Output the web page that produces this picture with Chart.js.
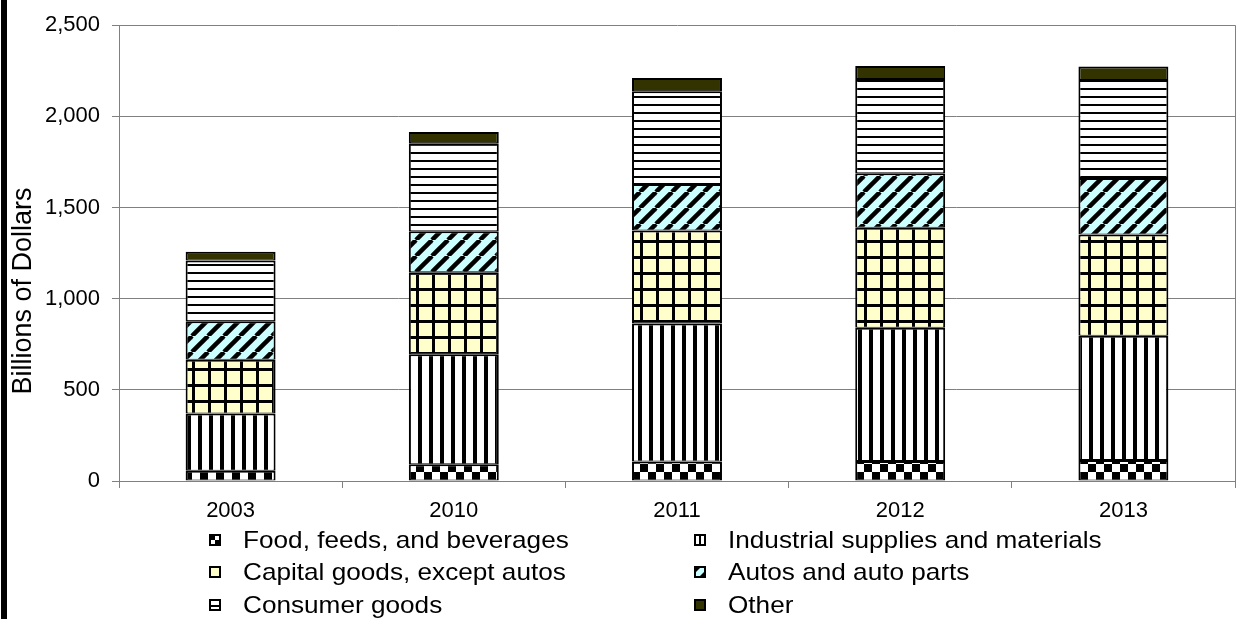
<!DOCTYPE html>
<html>
<head>
<meta charset="utf-8">
<script src="https://cdn.jsdelivr.net/npm/chart.js@4.4.0/dist/chart.umd.min.js"></script>
<style>
  body { margin: 0; background: #fff; }
  #wrap { position: relative; width: 1241px; height: 619px; overflow: hidden; background: #fff; }
  #chart { position: absolute; left: 0; top: 0; }
  #edge { position: absolute; left: 1px; top: 0; width: 6px; height: 619px; background: #000; }
  .leg-item { position: absolute; height: 24px; }
  .leg-item canvas { position: absolute; top: 6px; }
  .leg-item span {
    position: absolute; top: 0; white-space: nowrap;
    font-family: "Liberation Sans", Arial, sans-serif; font-size: 24px; line-height: 24px; color: #000;
    transform: scaleX(1.09); transform-origin: left center;
  }
</style>
</head>
<body>
<div id="wrap">
  <canvas id="chart" width="1241" height="619"></canvas>
  <div id="edge"></div>
  <div id="legend"></div>
</div>
<script>
/********************************
 *  data (billions of dollars)
 * ******************************/
var years = ['2003', '2010', '2011', '2012', '2013'];
var seriesNames = [
    'Food, feeds, and beverages',
    'Industrial supplies and materials',
    'Capital goods, except autos',
    'Autos and auto parts',
    'Consumer goods',
    'Other'
];
var food       = [55.8, 91.7, 107.5, 110.3, 115.1];
var industrial = [313.8, 603.1, 755.8, 730.6, 681.7];
var capital    = [295.9, 450.0, 510.8, 548.7, 555.7];
var autos      = [210.1, 225.1, 254.6, 298.5, 309.6];
var consumer   = [333.9, 483.2, 509.5, 516.9, 537.5];
var other      = [48.3, 60.9, 71.7, 71.4, 73.5];
var yTickLabels = ['0', '500', '1,000', '1,500', '2,000', '2,500'];
var yTitle = 'Billions of Dollars';

var FONT = '"Liberation Sans", Arial, sans-serif';

// fill patterns like the excel ones
function makePattern(kind) {
    var c = document.createElement('canvas');
    var g;
    if (kind == 'checker') {
        c.width = 16; c.height = 16; g = c.getContext('2d');
        g.fillStyle = '#fff'; g.fillRect(0, 0, 16, 16);
        g.fillStyle = '#000'; g.fillRect(0, 0, 8, 8); g.fillRect(8, 8, 8, 8);
    } else if (kind == 'vertical') {
        c.width = 11; c.height = 4; g = c.getContext('2d');
        g.fillStyle = '#fff'; g.fillRect(0, 0, 11, 4);
        g.fillStyle = '#000'; g.fillRect(0, 0, 4, 4);
    } else if (kind == 'grid') {
        c.width = 16; c.height = 16; g = c.getContext('2d');
        g.fillStyle = '#FFFFCC'; g.fillRect(0, 0, 16, 16);
        g.fillStyle = '#000'; g.fillRect(0, 0, 16, 3); g.fillRect(0, 0, 3, 16);
    } else if (kind == 'diagonal') {
        c.width = 16; c.height = 16; g = c.getContext('2d');
        g.fillStyle = '#CCFFFF'; g.fillRect(0, 0, 16, 16);
        g.strokeStyle = '#000'; g.lineWidth = 4.5;
        for (var k = -16; k <= 16; k += 16) {
            g.beginPath(); g.moveTo(k, 16); g.lineTo(k + 16, 0); g.stroke();
        }
    } else if (kind == 'horizontal') {
        c.width = 4; c.height = 8; g = c.getContext('2d');
        g.fillStyle = '#fff'; g.fillRect(0, 0, 4, 8);
        g.fillStyle = '#000'; g.fillRect(0, 0, 4, 2);
    }
    return g.createPattern(c, 'repeat');
}

var fills = [
    makePattern('checker'),
    makePattern('vertical'),
    makePattern('grid'),
    makePattern('diagonal'),
    makePattern('horizontal'),
    '#333300'
];
var values = [food, industrial, capital, autos, consumer, other];

var datasets = [];
for (var i = 0; i < values.length; i++) {
    datasets.push({
        label: seriesNames[i],
        data: values[i],
        backgroundColor: fills[i],
        borderColor: '#000',
        borderWidth: {top: 2, bottom: 1, left: 2, right: 2},
        borderSkipped: false,
        barPercentage: 0.403,
        categoryPercentage: 1.0
    });
}

// right edge of the plot box
var plotFrame = {
    id: 'plotFrame',
    afterDraw: function (chart) {
        var a = chart.chartArea, ctx = chart.ctx;
        ctx.save();
        ctx.strokeStyle = '#808080';
        ctx.lineWidth = 1;
        ctx.beginPath();
        ctx.moveTo(Math.round(a.right) + 0.5, a.top);
        ctx.lineTo(Math.round(a.right) + 0.5, a.bottom + 7);
        ctx.stroke();
        ctx.restore();
    }
};

// y title sits lower than the plot center, like the original
var axisTitle = {
    id: 'axisTitle',
    afterDraw: function (chart) {
        var ctx = chart.ctx;
        ctx.save();
        ctx.translate(24, 291);
        ctx.rotate(-Math.PI / 2);
        ctx.font = '27px ' + FONT;
        ctx.fillStyle = '#000';
        ctx.textAlign = 'center';
        ctx.textBaseline = 'middle';
        ctx.fillText(yTitle, 0, 0);
        ctx.restore();
    }
};

var ctx = document.getElementById('chart').getContext('2d');
var myChart = new Chart(ctx, {
    type: 'bar',
    data: {
        labels: years,
        datasets: datasets
    },
    options: {
        responsive: false,
        animation: false,
        layout: {padding: {left: 0, top: 21, right: 6, bottom: 93}},
        plugins: {
            legend: {display: false},
            tooltip: {enabled: false}
        },
        scales: {
            x: {
                stacked: true,
                grid: {drawOnChartArea: false, tickLength: 7, color: '#808080'},
                border: {color: '#808080'},
                ticks: {color: '#000', font: {family: FONT, size: 22}, padding: 10},
                afterFit: function (s) { s.height = 45; }
            },
            y: {
                stacked: true,
                min: 0,
                max: 2500,
                grid: {color: '#808080', tickLength: 7},
                border: {color: '#808080'},
                ticks: {
                    stepSize: 500,
                    color: '#000',
                    font: {family: FONT, size: 22},
                    padding: 12,
                    callback: function (v, idx) { return yTickLabels[idx]; }
                },
                afterFit: function (s) { s.width = 119; }
            }
        }
    },
    plugins: [plotFrame, axisTitle]
});

// legend, two columns like the original
function drawMarker(c, i) {
    var g = c.getContext('2d');
    g.fillStyle = '#000';
    g.fillRect(0, 0, 12, 12);
    if (i == 0) {
        g.fillStyle = '#fff'; g.fillRect(6, 2, 4, 4); g.fillRect(2, 6, 4, 4);
    } else if (i == 1) {
        g.fillStyle = '#fff'; g.fillRect(2, 2, 3, 8); g.fillRect(7, 2, 3, 8);
    } else if (i == 2) {
        g.fillStyle = '#FFFFCC'; g.fillRect(2, 2, 8, 8);
    } else if (i == 3) {
        g.fillStyle = '#CCFFFF';
        g.beginPath(); g.moveTo(2, 10); g.lineTo(2, 6); g.lineTo(6, 2); g.lineTo(10, 2); g.lineTo(10, 6); g.lineTo(6, 10); g.closePath(); g.fill();
    } else if (i == 4) {
        g.fillStyle = '#fff'; g.fillRect(2, 2, 8, 4); g.fillRect(2, 8, 8, 2);
    } else {
        g.fillStyle = '#333300'; g.fillRect(2, 2, 8, 8);
    }
}

var legendCols = [209, 694];
var legendRows = [539.5, 572, 604.5];
var legend = document.getElementById('legend');
for (var j = 0; j < seriesNames.length; j++) {
    var item = document.createElement('div');
    item.className = 'leg-item';
    item.style.left = legendCols[j % 2] + 'px';
    item.style.top = (legendRows[Math.floor(j / 2)] - 12) + 'px';
    var mk = document.createElement('canvas');
    mk.width = 12; mk.height = 12;
    mk.style.left = '0px';
    drawMarker(mk, j);
    var tx = document.createElement('span');
    tx.style.left = '34px';
    tx.textContent = seriesNames[j];
    item.appendChild(mk);
    item.appendChild(tx);
    legend.appendChild(item);
}
</script>
</body>
</html>
